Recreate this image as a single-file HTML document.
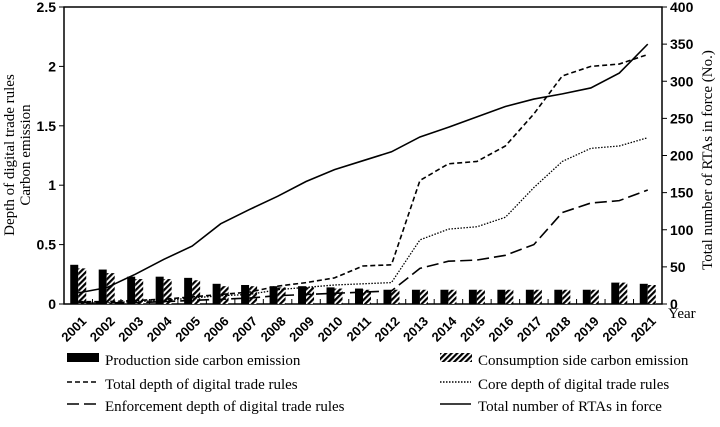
<!DOCTYPE html>
<html><head><meta charset="utf-8"><style>
body{margin:0;background:#fff;width:720px;height:422px;overflow:hidden}
svg text{font-family:"Liberation Sans",sans-serif}
.ser{font-family:"Liberation Serif",serif;font-size:15px}
</style></head><body>
<svg id="c" width="720" height="422">
<defs><pattern id="hatch" width="4" height="4" patternUnits="userSpaceOnUse" patternTransform="rotate(45)"><rect width="4" height="4" fill="#fff"/><rect width="2.2" height="4" fill="#000"/></pattern></defs>
</svg>
<script>
const years=["2001","2002","2003","2004","2005","2006","2007","2008","2009","2010","2011","2012","2013","2014","2015","2016","2017","2018","2019","2020","2021"];
const production=[0.33,0.29,0.23,0.23,0.22,0.17,0.16,0.15,0.15,0.14,0.13,0.12,0.12,0.12,0.12,0.12,0.12,0.12,0.12,0.18,0.17];
const consumption=[0.30,0.26,0.21,0.21,0.20,0.15,0.15,0.14,0.14,0.13,0.12,0.12,0.12,0.12,0.12,0.12,0.12,0.12,0.12,0.18,0.16];
const totalDepth=[0.02,0.02,0.03,0.04,0.06,0.08,0.10,0.15,0.18,0.22,0.32,0.33,1.04,1.18,1.20,1.33,1.60,1.92,2.00,2.02,2.10];
const coreDepth=[0.01,0.01,0.02,0.03,0.05,0.07,0.08,0.12,0.14,0.16,0.17,0.18,0.54,0.63,0.65,0.73,0.98,1.20,1.31,1.33,1.40];
const enforceDepth=[0.01,0.01,0.01,0.02,0.03,0.04,0.05,0.07,0.08,0.09,0.10,0.11,0.30,0.36,0.37,0.41,0.50,0.77,0.85,0.87,0.96];
const rtas=[15,22,40,60,78,108,127,145,165,181,193,205,225,238,252,266,276,283,291,311,350];
const leftTicks=["0","0.5","1","1.5","2","2.5"];
const rightTicks=["0","50","100","150","200","250","300","350","400"];
const svg=document.getElementById('c');const NS="http://www.w3.org/2000/svg";
const X0=64,X1=662,Y0=304,Y1=7;
const bw=(X1-X0)/years.length;
const xc=i=>X0+bw*(i+0.5);
const yL=v=>Y0-(v/2.5)*(Y0-Y1);
const yR=v=>Y0-(v/400)*(Y0-Y1);
function mk(t,a){const e=document.createElementNS(NS,t);for(const k in a)e.setAttribute(k,a[k]);svg.appendChild(e);return e;}
let e;
e=mk('rect',{x:X0,y:Y1,width:X1-X0,height:Y0-Y1,fill:'none',stroke:'#000','stroke-width':1.5});


production.forEach((v,i)=>{
 e=mk('rect',{x:xc(i)-8,y:yL(v),width:8,height:Y0-yL(v),fill:'#000'});
 
 
});
consumption.forEach((v,i)=>{
 e=mk('rect',{x:xc(i),y:yL(v),width:8,height:Y0-yL(v),fill:'url(#hatch)'});
 
 
});
function line(arr,fy,dash,w,name){
 const p=arr.map((v,i)=>xc(i)+','+fy(v)).join(' ');
 e=mk('polyline',{points:p,fill:'none',stroke:'#000','stroke-width':w,'stroke-dasharray':dash});
 
 
}
line(totalDepth,yL,'5,3',1.6,'line-total-depth');
line(coreDepth,yL,'1.5,1.5',1.3,'line-core-depth');
line(enforceDepth,yL,'12,5',1.6,'line-enforcement-depth');
line(rtas,yR,'none',1.6,'line-total-rtas');
leftTicks.forEach(t=>{const y=yL(+t);
 mk('line',{x1:X0-5,x2:X0,y1:y,y2:y,stroke:'#000'});
 e=mk('text',{x:X0-8,y:y+5,'text-anchor':'end','font-size':14,'font-weight':'bold'});e.textContent=t;
 
 
});
rightTicks.forEach(t=>{const y=yR(+t);
 mk('line',{x1:X1,x2:X1+5,y1:y,y2:y,stroke:'#000'});
 e=mk('text',{x:X1+8,y:y+5,'font-size':14,'font-weight':'bold'});e.textContent=t;
 
 
});
years.forEach((t,i)=>{
 mk('line',{x1:X0+bw*(i+1),x2:X0+bw*(i+1),y1:Y0,y2:Y0-5,stroke:'#000'});
 const lx=xc(i)+9,ly=322;
 e=mk('text',{x:lx,y:ly,'text-anchor':'end','font-size':13,'font-weight':'bold',transform:`rotate(-45 ${lx} ${ly})`});e.textContent=t;
 
 
});
e=mk('text',{x:668,y:318,'class':'ser'});e.textContent='Year';


e=mk('text',{x:14,y:155,'class':'ser','text-anchor':'middle',transform:'rotate(-90 14 155)'});e.textContent='Depth of digital trade rules';


e=mk('text',{x:30,y:155,'class':'ser','text-anchor':'middle',transform:'rotate(-90 30 155)'});e.textContent='Carbon emission';


e=mk('text',{x:712,y:160,'class':'ser','text-anchor':'middle',transform:'rotate(-90 712 160)'});e.textContent='Total number of RTAs in force (No.)';


const legend=[
 [67,365,'bar','#000','Production side carbon emission'],
 [440,365,'bar','url(#hatch)','Consumption side carbon emission'],
 [67,389,'line','5,3','Total depth of digital trade  rules'],
 [440,389,'line','1.5,1.5','Core depth of digital trade rules'],
 [67,411,'line','12,5','Enforcement depth of digital trade rules'],
 [440,411,'line','none','Total number of RTAs in force']];
legend.forEach(l=>{
 if(l[2]==='bar')mk('rect',{x:l[0],y:l[1]-12,width:32,height:9,fill:l[3]});
 else mk('line',{x1:l[0],x2:l[0]+31,y1:l[1]-7,y2:l[1]-7,stroke:'#000','stroke-width':1.6,'stroke-dasharray':l[3]});
 e=mk('text',{x:l[0]+38,y:l[1],'class':'ser'});e.textContent=l[4];
 
 
});
</script>
</body></html>
